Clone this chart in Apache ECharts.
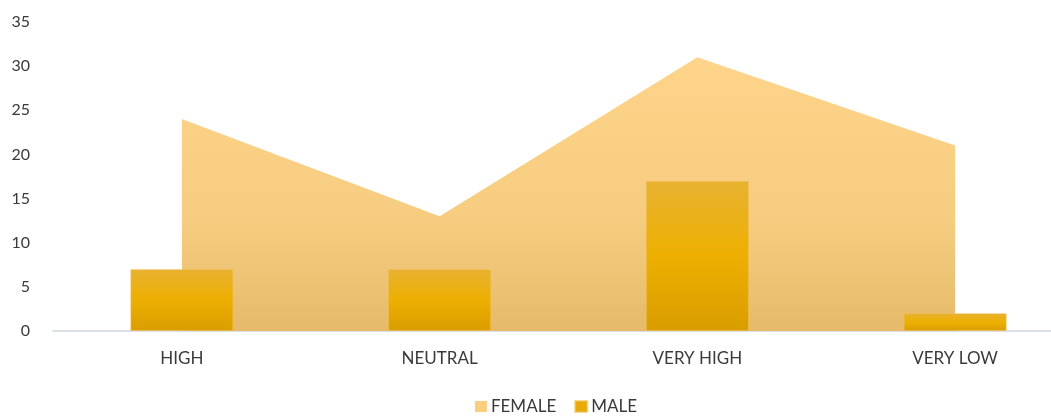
<!DOCTYPE html>
<html>
<head>
<meta charset="utf-8">
<script src="https://cdn.jsdelivr.net/npm/echarts@6/dist/echarts.min.js"></script>
<style>
  html, body { margin: 0; padding: 0; background: #ffffff; overflow: hidden; }
  #wrap { width: 1051px; height: 419px; overflow: hidden; }
  /* the drawing is wider than the window; its right part is clipped */
  #chart { width: 1112px; height: 419px; }
</style>
</head>
<body>
<div id="wrap"><div id="chart"></div></div>
<script>
// Rating categories along the x axis
const categories = ['HIGH', 'NEUTRAL', 'VERY HIGH', 'VERY LOW'];
// Counts per gender
const femaleValues = [24, 13, 31, 21];
const maleValues = [7, 7, 17, 2];
// Y axis range
const yMin = 0;
const yMax = 35;
const yStep = 5;

const FONT = 'Lato, "Open Sans", sans-serif';

const chart = echarts.init(document.getElementById('chart'), null, { renderer: 'canvas' });

chart.setOption({
  animation: false,
  backgroundColor: '#ffffff',
  textStyle: { fontFamily: FONT },
  grid: { left: 53, right: 28, top: 22, bottom: 88, containLabel: false },
  legend: {
    bottom: -1,
    left: 'center',
    itemWidth: 12,
    itemHeight: 11,
    itemGap: 18,
    icon: 'rect',
    textStyle: { fontFamily: FONT, fontSize: 17, color: '#3a3a3a', padding: [0, 0, 0, -1] },
    data: [
      { name: 'FEMALE', itemStyle: { color: '#FBCD7E' } },
      { name: 'MALE', itemStyle: { color: '#E8AB06' } }
    ]
  },
  xAxis: {
    type: 'category',
    data: categories,
    boundaryGap: true,
    axisLine: { show: true, lineStyle: { color: '#DCDFE6', width: 2 } },
    axisTick: { show: false },
    axisLabel: { fontFamily: FONT, fontSize: 17, color: '#3a3a3a', margin: 19 }
  },
  yAxis: {
    type: 'value',
    min: yMin,
    max: yMax,
    interval: yStep,
    axisLine: { show: false },
    axisTick: { show: false },
    splitLine: { show: false },
    axisLabel: { fontFamily: FONT, fontSize: 16, color: '#3a3a3a', margin: 23 }
  },
  series: [
    {
      name: 'FEMALE',
      type: 'line',
      data: femaleValues,
      symbol: 'none',
      lineStyle: { width: 0 },
      itemStyle: { color: '#FBCD7E' },
      areaStyle: {
        opacity: 1,
        origin: 'start',
        color: new echarts.graphic.LinearGradient(0, 0, 0, 1, [
          { offset: 0, color: '#FED48A' },
          { offset: 0.6, color: '#F6CC80' },
          { offset: 1, color: '#E5BB6A' }
        ])
      },
      z: 1
    },
    {
      name: 'MALE',
      type: 'bar',
      data: maleValues,
      barWidth: 103,
      itemStyle: {
        borderColor: 'rgba(240,190,80,0.6)',
        borderWidth: 1,
        color: new echarts.graphic.LinearGradient(0, 0, 0, 1, [
          { offset: 0, color: '#E8B232' },
          { offset: 0.5, color: '#EDAF00' },
          { offset: 1, color: '#D99D00' }
        ])
      },
      z: 2
    }
  ]
});
</script>
</body>
</html>
